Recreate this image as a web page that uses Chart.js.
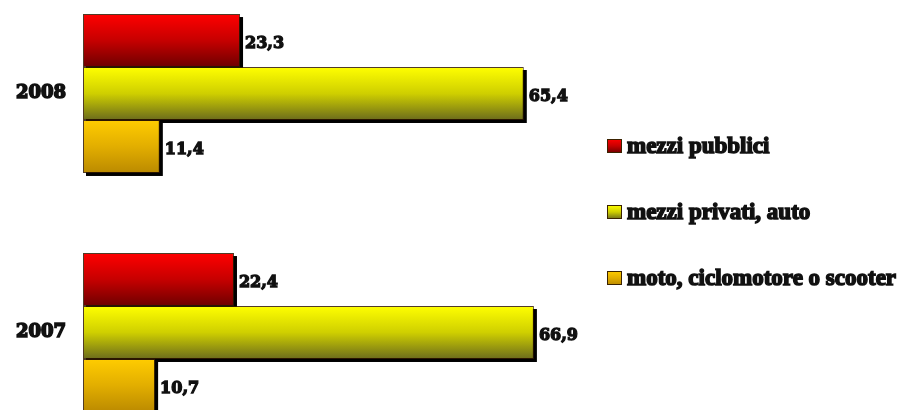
<!DOCTYPE html>
<html lang="it">
  <head>
    <meta charset="UTF-8" />
    <title>Mezzi di trasporto 2007-2008</title>
    <script src="https://cdn.jsdelivr.net/npm/chart.js"></script>
    <style>
      html, body { margin: 0; padding: 0; background: #fff; overflow: hidden; }
      .chart-container { position: absolute; left: 0; top: -26px; width: 905px; height: 478px; }
    </style>
  </head>
  <body>
    <div class="chart-container">
      <canvas id="mezziChart" width="905" height="478"></canvas>
    </div>

    <script>
      const anni = ["2008", "2007"];
      const mezziPubblici = [23.3, 22.4];
      const mezziPrivati = [65.4, 66.9];
      const motoScooter = [11.4, 10.7];

      // top / middle / bottom colour of each bar gradient
      const sfumature = [
        ["#ff0000", "#c60000", "#6e0000"],
        ["#ffff00", "#cfcf00", "#6c6c1c"],
        ["#ffcc00", "#e2ae00", "#bb8a00"],
      ];

      const fmt = (v) => v.toFixed(1).replace(".", ",");

      function gradiente(ctx, top, bottom, idx) {
        const g = ctx.createLinearGradient(0, top, 0, bottom);
        g.addColorStop(0, sfumature[idx][0]);
        g.addColorStop(0.5, sfumature[idx][1]);
        g.addColorStop(1, sfumature[idx][2]);
        return g;
      }

      // black drop shadow under every bar + vertical gradient fill
      const barreOmbra = {
        id: "barreOmbra",
        beforeDatasetsDraw(chart) {
          const ctx = chart.ctx;
          ctx.save();
          ctx.fillStyle = "#000";
          chart.data.datasets.forEach((ds, i) => {
            chart.getDatasetMeta(i).data.forEach((bar) => {
              const { x, y, base, height } = bar.getProps(["x", "y", "base", "height"], true);
              ctx.fillRect(base + 3, y - height / 2 + 3, x - base, height);
              bar.options.backgroundColor = gradiente(ctx, y - height / 2, y + height / 2, i);
            });
          });
          ctx.restore();
        },
        afterDatasetsDraw(chart) {
          // value labels at the end of each bar
          const ctx = chart.ctx;
          ctx.save();
          ctx.font = "bold 16px 'DejaVu Serif'";
          ctx.fillStyle = "#111";
          ctx.strokeStyle = "#111";
          ctx.lineWidth = 1.3;
          ctx.textBaseline = "middle";
          chart.data.datasets.forEach((ds, i) => {
            chart.getDatasetMeta(i).data.forEach((bar, j) => {
              const t = fmt(ds.data[j]);
              ctx.fillText(t, bar.x + 5, bar.y + 3);
              ctx.strokeText(t, bar.x + 5, bar.y + 3);
            });
          });
          ctx.restore();
        },
      };

      // legend on the right side
      const legendaLaterale = {
        id: "legendaLaterale",
        afterDraw(chart) {
          const ctx = chart.ctx;
          ctx.save();
          ctx.font = "bold 23px 'Liberation Serif'";
          ctx.textBaseline = "alphabetic";
          chart.data.datasets.forEach((ds, i) => {
            const y = 165 + i * 66;
            ctx.fillStyle = gradiente(ctx, y, y + 14, i);
            ctx.fillRect(607, y, 15, 14);
            ctx.strokeStyle = "#3a2200";
            ctx.lineWidth = 1;
            ctx.strokeRect(607.5, y + 0.5, 14, 13);
            ctx.fillStyle = "#111";
            ctx.strokeStyle = "#111";
            ctx.lineWidth = 1.5;
            ctx.fillText(ds.label, 627, y + 14);
            ctx.strokeText(ds.label, 627, y + 14);
          });
          ctx.restore();
        },
      };

      // scriptable so each bar keeps its own options object
      const coloreBarra = (c) => sfumature[c.datasetIndex][0];
      const bordo = "rgba(50,25,0,0.85)";

      const ctx = document.getElementById("mezziChart").getContext("2d");
      new Chart(ctx, {
        type: "bar",
        data: {
          labels: anni,
          datasets: [
            { label: "mezzi pubblici", data: mezziPubblici, backgroundColor: coloreBarra, borderColor: bordo },
            { label: "mezzi privati, auto", data: mezziPrivati, backgroundColor: coloreBarra, borderColor: bordo },
            { label: "moto, ciclomotore o scooter", data: motoScooter, backgroundColor: coloreBarra, borderColor: bordo },
          ],
        },
        options: {
          indexAxis: "y",
          responsive: false,
          animation: false,
          layout: { padding: { left: 0, top: 0, bottom: 0, right: 316.5 } },
          datasets: {
            bar: {
              barPercentage: 1,
              categoryPercentage: 0.665,
              borderWidth: 1,
              borderSkipped: false,
            },
          },
          plugins: {
            colors: { enabled: false },
            legend: { display: false },
            tooltip: { enabled: false },
          },
          scales: {
            x: { display: false, min: 0, max: 75 },
            y: {
              grid: { display: false, drawTicks: false },
              border: { display: false },
              afterFit: (scale) => {
                scale.width = 83;
                scale.paddingTop = 0;
                scale.paddingBottom = 0;
              },
              ticks: {
                padding: 17,
                color: "#111",
                textStrokeColor: "#111",
                textStrokeWidth: 1.6,
                font: { family: "'DejaVu Serif'", size: 18, weight: "bold" },
              },
            },
          },
        },
        plugins: [barreOmbra, legendaLaterale],
      });
    </script>
  </body>
</html>
